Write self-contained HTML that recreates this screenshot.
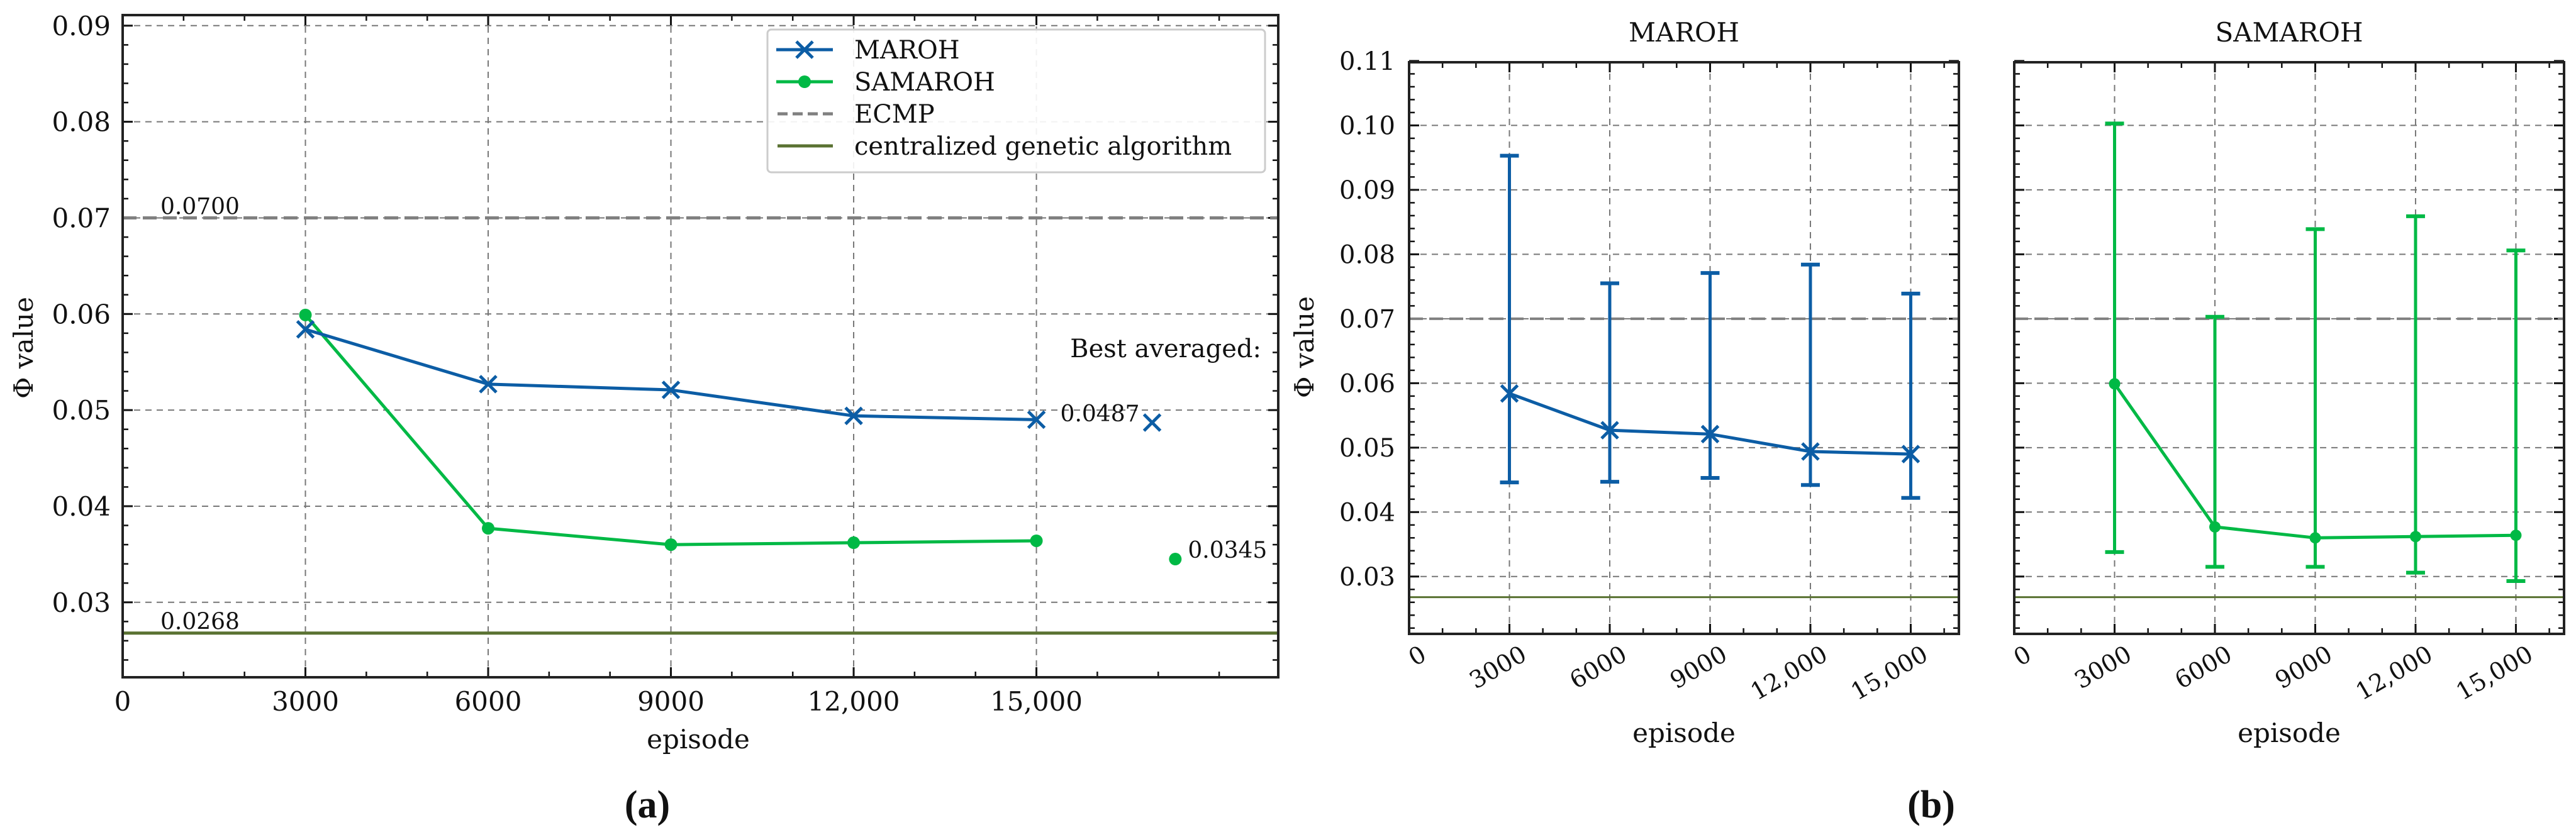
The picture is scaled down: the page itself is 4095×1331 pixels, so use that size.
<!DOCTYPE html>
<html><head><meta charset="utf-8">
<style>
html,body{margin:0;padding:0;background:#fff;}
svg{display:block;font-family:"DejaVu Serif","Liberation Serif",serif;}
</style></head>
<body>
<svg id="fig" width="4095" height="1331" viewBox="0 0 4095 1331" xmlns="http://www.w3.org/2000/svg"></svg>
<script>
// ---- data ----
const episodes = [3000, 6000, 9000, 12000, 15000];
const marohMean = [0.0584, 0.0527, 0.0521, 0.0494, 0.0490];
const samarohMean = [0.0599, 0.0377, 0.0360, 0.0362, 0.0364];
const marohUpper = [0.0953, 0.0755, 0.0771, 0.0784, 0.0739];
const marohLower = [0.0446, 0.0447, 0.0453, 0.0442, 0.0422];
const samarohUpper = [0.1003, 0.0703, 0.0839, 0.0859, 0.0806];
const samarohLower = [0.0338, 0.0315, 0.0315, 0.0306, 0.0293];
const ecmpValue = [0.0700];
const gaValue = [0.0268];
const bestEpisode = [16900, 17280];
const bestValue = [0.0487, 0.0345];
const bestLabels = ["0.0487", "0.0345"];
const xTicksA = [0, 3000, 6000, 9000, 12000, 15000];
const xTickLabels = ["0", "3000", "6000", "9000", "12,000", "15,000"];
const yTicksA = [0.03, 0.04, 0.05, 0.06, 0.07, 0.08, 0.09];
const yTickLabelsA = ["0.03", "0.04", "0.05", "0.06", "0.07", "0.08", "0.09"];
const yTicksB = [0.03, 0.04, 0.05, 0.06, 0.07, 0.08, 0.09, 0.10, 0.11];
const yTickLabelsB = ["0.03", "0.04", "0.05", "0.06", "0.07", "0.08", "0.09", "0.10", "0.11"];

const BLUE = "#0C5DA5", GREEN = "#00B945", OLIVE = "#5a7232", GRAY = "#808080";
const svg = document.getElementById('fig');
const NS = "http://www.w3.org/2000/svg";
function mk(tag, attrs, parent) {
  const e = document.createElementNS(NS, tag);
  for (const k in attrs) e.setAttribute(k, attrs[k]);
  (parent || svg).appendChild(e);
  return e;
}
function txt(str, attrs, parent) { const e = mk('text', attrs, parent); e.textContent = str; return e; }

function makeScale(d0, d1, r0, r1) { return v => r0 + (v - d0) / (d1 - d0) * (r1 - r0); }

function drawFrame(g, L, T, R, B, sx, sy, xmaj, xmin, ymaj, ymin) {
  xmaj.forEach(v => { const x = sx(v); if (x > L + 2 && x < R - 2) {
    const l = mk('line', {x1:x, y1:T, x2:x, y2:B, stroke:"#777", 'stroke-width':2, 'stroke-dasharray':"10,8"}, g);
    
    
  }});
  ymaj.forEach(v => { const y = sy(v); if (y > T + 2 && y < B - 2) {
    const l = mk('line', {x1:L, y1:y, x2:R, y2:y, stroke:"#777", 'stroke-width':2, 'stroke-dasharray':"10,8"}, g);
    
    
  }});
  xmaj.forEach(v => { const x = sx(v);
    mk('line', {x1:x, y1:B, x2:x, y2:B-16, stroke:"#111", 'stroke-width':3}, g);
    mk('line', {x1:x, y1:T, x2:x, y2:T+16, stroke:"#111", 'stroke-width':3}, g);
  });
  xmin.forEach(v => { const x = sx(v);
    mk('line', {x1:x, y1:B, x2:x, y2:B-9, stroke:"#111", 'stroke-width':2.5}, g);
    mk('line', {x1:x, y1:T, x2:x, y2:T+9, stroke:"#111", 'stroke-width':2.5}, g);
  });
  ymaj.forEach(v => { const y = sy(v);
    mk('line', {x1:L, y1:y, x2:L+16, y2:y, stroke:"#111", 'stroke-width':3}, g);
    mk('line', {x1:R, y1:y, x2:R-16, y2:y, stroke:"#111", 'stroke-width':3}, g);
  });
  ymin.forEach(v => { const y = sy(v);
    mk('line', {x1:L, y1:y, x2:L+9, y2:y, stroke:"#111", 'stroke-width':2.5}, g);
    mk('line', {x1:R, y1:y, x2:R-9, y2:y, stroke:"#111", 'stroke-width':2.5}, g);
  });
}
function frameRect(g, L, T, R, B) {
  const r = mk('rect', {x:L, y:T, width:R-L, height:B-T, fill:"none", stroke:"#222", 'stroke-width':4}, g);
  
  
}
function range(a, b, s) { const out = []; for (let v = a; v <= b + 1e-9; v += s) out.push(+v.toFixed(6)); return out; }
function xMarker(g, x, y, s, color, w) {
  mk('line', {x1:x-s, y1:y-s, x2:x+s, y2:y+s, stroke:color, 'stroke-width':w}, g);
  mk('line', {x1:x-s, y1:y+s, x2:x+s, y2:y-s, stroke:color, 'stroke-width':w}, g);
}
function polyline(g, xs, ys, color, w) {
  return mk('polyline', {points: xs.map((x,i)=>x+","+ys[i]).join(" "), fill:"none", stroke:color, 'stroke-width':w, 'stroke-linejoin':"round"}, g);
}

// ================= Panel (a) =================
(function(){
  const L=195, T=24, R=2032, B=1077;
  const sx = makeScale(0, 18970, L, R);
  const sy = makeScale(0.0222, 0.0911, B, T);
  const g = mk('g', {});
  
  
  drawFrame(g, L, T, R, B, sx, sy, xTicksA, range(1000, 18000, 1000), yTicksA, range(0.024, 0.090, 0.002));
  const e = mk('line', {x1:L, y1:sy(ecmpValue[0]), x2:R, y2:sy(ecmpValue[0]), stroke:GRAY, 'stroke-width':5, 'stroke-dasharray':"22,10"}, g);
  
  
  const ga = mk('line', {x1:L, y1:sy(gaValue[0]), x2:R, y2:sy(gaValue[0]), stroke:OLIVE, 'stroke-width':5}, g);
  
  
  const t1 = txt(ecmpValue[0].toFixed(4), {x:255, y:sy(ecmpValue[0])-6, 'font-size':36, fill:"#111"}, g);
  
  
  const t2 = txt(gaValue[0].toFixed(4), {x:255, y:sy(gaValue[0])-6, 'font-size':36, fill:"#111"}, g);
  
  
  const gl = polyline(g, episodes.map(sx), samarohMean.map(sy), GREEN, 5);
  
  
  const bl = polyline(g, episodes.map(sx), marohMean.map(sy), BLUE, 5);
  
  
  episodes.forEach((ep, i) => {
    const c = mk('circle', {cx:sx(ep), cy:sy(samarohMean[i]), r:10, fill:GREEN}, g);
    
    
    xMarker(g, sx(ep), sy(marohMean[i]), 13, BLUE, 5);
  });
  xMarker(g, sx(bestEpisode[0]), sy(bestValue[0]), 13, BLUE, 5);
  const bc = mk('circle', {cx:sx(bestEpisode[1]), cy:sy(bestValue[1]), r:10, fill:GREEN}, g);
  
  
  const b1 = txt(bestLabels[0], {x:sx(bestEpisode[0])-146, y:sy(bestValue[0])-2, 'font-size':36, fill:"#111"}, g);
  
  
  const b2 = txt(bestLabels[1], {x:sx(bestEpisode[1])+20, y:sy(bestValue[1])-2, 'font-size':36, fill:"#111"}, g);
  
  
  const ba = txt("Best averaged:", {x:2005, y:568, 'font-size':40, fill:"#111", 'text-anchor':"end"}, g);
  
  
  frameRect(g, L, T, R, B);
  yTicksA.forEach((v, i) => {
    const t = txt(yTickLabelsA[i], {x:176, y:sy(v)+15, 'font-size':42, 'text-anchor':"end", fill:"#111"}, g);
    
    
  });
  xTicksA.forEach((v, i) => {
    const t = txt(xTickLabels[i], {x:sx(v), y:1130, 'font-size':42, 'text-anchor':"middle", fill:"#111"}, g);
    
    
  });
  const yl = txt("Φ value", {x:0, y:0, 'font-size':42, 'text-anchor':"middle", fill:"#111", transform:"translate(52,553) rotate(-90)"}, g);
  
  
  const xl = txt("episode", {x:1110, y:1190, 'font-size':42, 'text-anchor':"middle", fill:"#111"}, g);
  
  
  const lg = mk('g', {}, g);
  
  
  mk('rect', {x:1220, y:47, width:791, height:227, rx:6, fill:"#fff", 'fill-opacity':0.9, stroke:"#ccc", 'stroke-width':3}, lg);
  const rows = [79, 130, 181, 232];
  const names = ["MAROH", "SAMAROH", "ECMP", "centralized genetic algorithm"];
  mk('line', {x1:1234, y1:rows[0], x2:1324, y2:rows[0], stroke:BLUE, 'stroke-width':5}, lg);
  xMarker(lg, 1279, rows[0], 13, BLUE, 5);
  mk('line', {x1:1234, y1:rows[1], x2:1324, y2:rows[1], stroke:GREEN, 'stroke-width':5}, lg);
  mk('circle', {cx:1279, cy:rows[1], r:10, fill:GREEN}, lg);
  mk('line', {x1:1236, y1:rows[2], x2:1324, y2:rows[2], stroke:GRAY, 'stroke-width':5, 'stroke-dasharray':"16,8"}, lg);
  mk('line', {x1:1236, y1:rows[3], x2:1324, y2:rows[3], stroke:OLIVE, 'stroke-width':5}, lg);
  names.forEach((n, i) => {
    const t = txt(n, {x:1358, y:rows[i]+14, 'font-size':40, fill:"#111"}, lg);
    
    
  });
  const lab = txt("(a)", {x:1029, y:1300, 'font-size':62, 'font-weight':"bold", 'text-anchor':"middle", fill:"#111", 'font-family':"Liberation Serif, serif"}, g);
  
  
})();

// ================= Panel (b) =================
function subPanel(L, title, mean, upper, lower, color, marker, showY, name) {
  const T=99, R=L+874, B=1008;
  const sx = makeScale(0, 16440, L, R);
  const sy = makeScale(0.0211, 0.1098, B, T);
  const g = mk('g', {});
  
  
  drawFrame(g, L, T, R, B, sx, sy, xTicksA, range(1000, 16000, 1000), yTicksB, range(0.022, 0.108, 0.002));
  const e = mk('line', {x1:L, y1:sy(ecmpValue[0]), x2:R, y2:sy(ecmpValue[0]), stroke:GRAY, 'stroke-width':4, 'stroke-dasharray':"22,10"}, g);
  
  
  const ga = mk('line', {x1:L, y1:sy(gaValue[0]), x2:R, y2:sy(gaValue[0]), stroke:OLIVE, 'stroke-width':3}, g);
  
  
  episodes.forEach((ep, i) => {
    const x = sx(ep);
    const eb = mk('line', {x1:x, y1:sy(upper[i]), x2:x, y2:sy(lower[i]), stroke:color, 'stroke-width':5}, g);
    
    
    mk('line', {x1:x-15, y1:sy(upper[i]), x2:x+15, y2:sy(upper[i]), stroke:color, 'stroke-width':6}, g);
    mk('line', {x1:x-15, y1:sy(lower[i]), x2:x+15, y2:sy(lower[i]), stroke:color, 'stroke-width':6}, g);
  });
  const pl = polyline(g, episodes.map(sx), mean.map(sy), color, 5);
  
  
  episodes.forEach((ep, i) => {
    if (marker === 'x') xMarker(g, sx(ep), sy(mean[i]), 13, color, 5);
    else {
      const c = mk('circle', {cx:sx(ep), cy:sy(mean[i]), r:9, fill:color}, g);
      
      
    }
  });
  frameRect(g, L, T, R, B);
  const tt = txt(title, {x:(L+R)/2, y:66, 'font-size':42, 'text-anchor':"middle", fill:"#111"}, g);
  
  
  if (showY) {
    yTicksB.forEach((v, i) => {
      const t = txt(yTickLabelsB[i], {x:L-22, y:sy(v)+14, 'font-size':40, 'text-anchor':"end", fill:"#111"}, g);
      
      
    });
    const yl = txt("Φ value", {x:0, y:0, 'font-size':42, 'text-anchor':"middle", fill:"#111", transform:"translate(2088,552) rotate(-90)"}, g);
    
    
  }
  xTicksA.forEach((v, i) => {
    const t = txt(xTickLabels[i], {x:0, y:0, 'font-size':38, 'text-anchor':"end", fill:"#111", transform:"translate("+(sx(v)+30)+",1048) rotate(-30)"}, g);
    
    
  });
  const xl = txt("episode", {x:(L+R)/2, y:1180, 'font-size':42, 'text-anchor':"middle", fill:"#111"}, g);
  
  
}
subPanel(2240, "MAROH", marohMean, marohUpper, marohLower, BLUE, 'x', true, 'panel-b-maroh');
subPanel(3202, "SAMAROH", samarohMean, samarohUpper, samarohLower, GREEN, 'o', false, 'panel-b-samaroh');
const labB = txt("(b)", {x:3070, y:1300, 'font-size':62, 'font-weight':"bold", 'text-anchor':"middle", fill:"#111", 'font-family':"Liberation Serif, serif"});


</script>
</body></html>
